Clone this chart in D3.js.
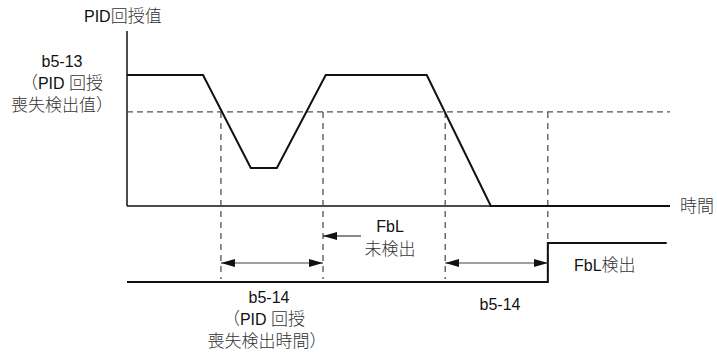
<!DOCTYPE html>
<html><head><meta charset="utf-8">
<script src="https://cdn.jsdelivr.net/npm/d3@7"></script>
<style>
body{margin:0;background:#fff;}
svg{text-spacing-trim:space-all;}
text{font-family:"Liberation Sans","Noto Sans CJK JP",Arial,sans-serif;font-size:16px;fill:#111;text-spacing-trim:space-all;}
tspan.cjk{font-family:"Noto Sans CJK JP",sans-serif;font-weight:300;font-size:17px;fill:#333;text-spacing-trim:space-all;font-feature-settings:"fwid" 1;}
</style></head>
<body><svg id="c" width="717" height="357"></svg>
<script>
// ---- data ----
const timePoints   = [0, 14, 22.8, 27.6, 36.6, 55.2, 67, 100];
const pidFeedback  = [100, 100, 29, 29, 100, 100, 0, 0];
const lossLevel    = 71.8;                 // b5-13
const crossTimes   = [17.3, 36.1, 58.6, 77.5];
const fblTimes     = [0, 77.5, 77.5, 99.4];
const fblStatus    = [0, 0, 1, 1];
const yLabelLines  = ["b5-13", "（PID 回授", "喪失検出值）"];
const tLabelLines  = ["b5-14", "（PID 回授", "喪失検出時間）"];

const svg = d3.select("#c");
const x = d3.scaleLinear().domain([0, 100]).range([127, 670]);
const y = d3.scaleLinear().domain([0, 100]).range([206, 75]);
const yS = d3.scaleLinear().domain([0, 1]).range([282, 243]);

function addText(px, py, s, anchor){
  const t = svg.append("text").attr("x",px).attr("y",py).attr("text-anchor",anchor||"start");
  const runs = s.match(/[\u3000-\u9fff\uff00-\uffef]+|[^\u3000-\u9fff\uff00-\uffef]+/g);
  runs.forEach(r=>{
    const cjk = /[\u3000-\u9fff\uff00-\uffef]/.test(r);
    t.append("tspan").attr("class", cjk ? "cjk" : null).text(r);
  });
  return t;
}

const defs = svg.append("defs");
defs.append("marker").attr("id","arr").attr("viewBox","0 0 14 8")
  .attr("refX",14).attr("refY",4).attr("markerWidth",14).attr("markerHeight",8)
  .attr("markerUnits","userSpaceOnUse").attr("orient","auto-start-reverse")
  .append("path").attr("d","M0,0L14,4L0,8Z").attr("fill","#111");

// axes
svg.append("line").attr("x1",x(0)).attr("x2",x(0)).attr("y1",31).attr("y2",y(0))
  .attr("stroke","#111").attr("stroke-width",1.5);
svg.append("line").attr("x1",x(0)).attr("x2",x(100)).attr("y1",y(0)).attr("y2",y(0))
  .attr("stroke","#111").attr("stroke-width",1.5);

// dashed threshold
svg.append("line").attr("x1",x(0)).attr("x2",x(100)).attr("y1",y(lossLevel)).attr("y2",y(lossLevel))
  .attr("stroke","#555").attr("stroke-width",1.2).attr("stroke-dasharray","6,4");
crossTimes.forEach(t=>{
  svg.append("line").attr("x1",x(t)).attr("x2",x(t)).attr("y1",y(lossLevel)).attr("y2",yS(0)-3)
    .attr("stroke","#444").attr("stroke-width",1.2).attr("stroke-dasharray","6,5");
});

// PID feedback signal
const line = d3.line().x((d,i)=>x(timePoints[i])).y(d=>y(d));
svg.append("path").attr("d",line(pidFeedback)).attr("fill","none")
  .attr("stroke","#111").attr("stroke-width",2).attr("stroke-linejoin","miter");

// FbL status signal
const sline = d3.line().x((d,i)=>x(fblTimes[i])).y(d=>yS(d));
svg.append("path").attr("d",sline(fblStatus)).attr("fill","none")
  .attr("stroke","#111").attr("stroke-width",2);

// double arrows
[[crossTimes[0],crossTimes[1]],[crossTimes[2],crossTimes[3]]].forEach(([a,b])=>{
  svg.append("line").attr("x1",x(a)).attr("x2",x(b)).attr("y1",263).attr("y2",263)
    .attr("stroke","#444").attr("stroke-width",1.2)
    .attr("marker-start","url(#arr)").attr("marker-end","url(#arr)");
});
// FbL not-detected arrow
svg.append("line").attr("x1",x(crossTimes[1])+38).attr("x2",x(crossTimes[1])).attr("y1",236).attr("y2",236)
  .attr("stroke","#111").attr("stroke-width",1.2).attr("marker-end","url(#arr)");

// texts
addText(84, 22, "PID回授值");
yLabelLines.forEach((s,i)=>addText(62, [67,89,111][i], s, "middle"));
addText(680, 212, "時間");
addText(390, 232, "FbL", "middle");
addText(390, 255, "未検出", "middle");
addText(574, 271, "FbL検出");
tLabelLines.forEach((s,i)=>addText([269,264,267][i], [303,325,347][i], s, "middle"));
addText(500, 310, "b5-14", "middle");
</script></body></html>
